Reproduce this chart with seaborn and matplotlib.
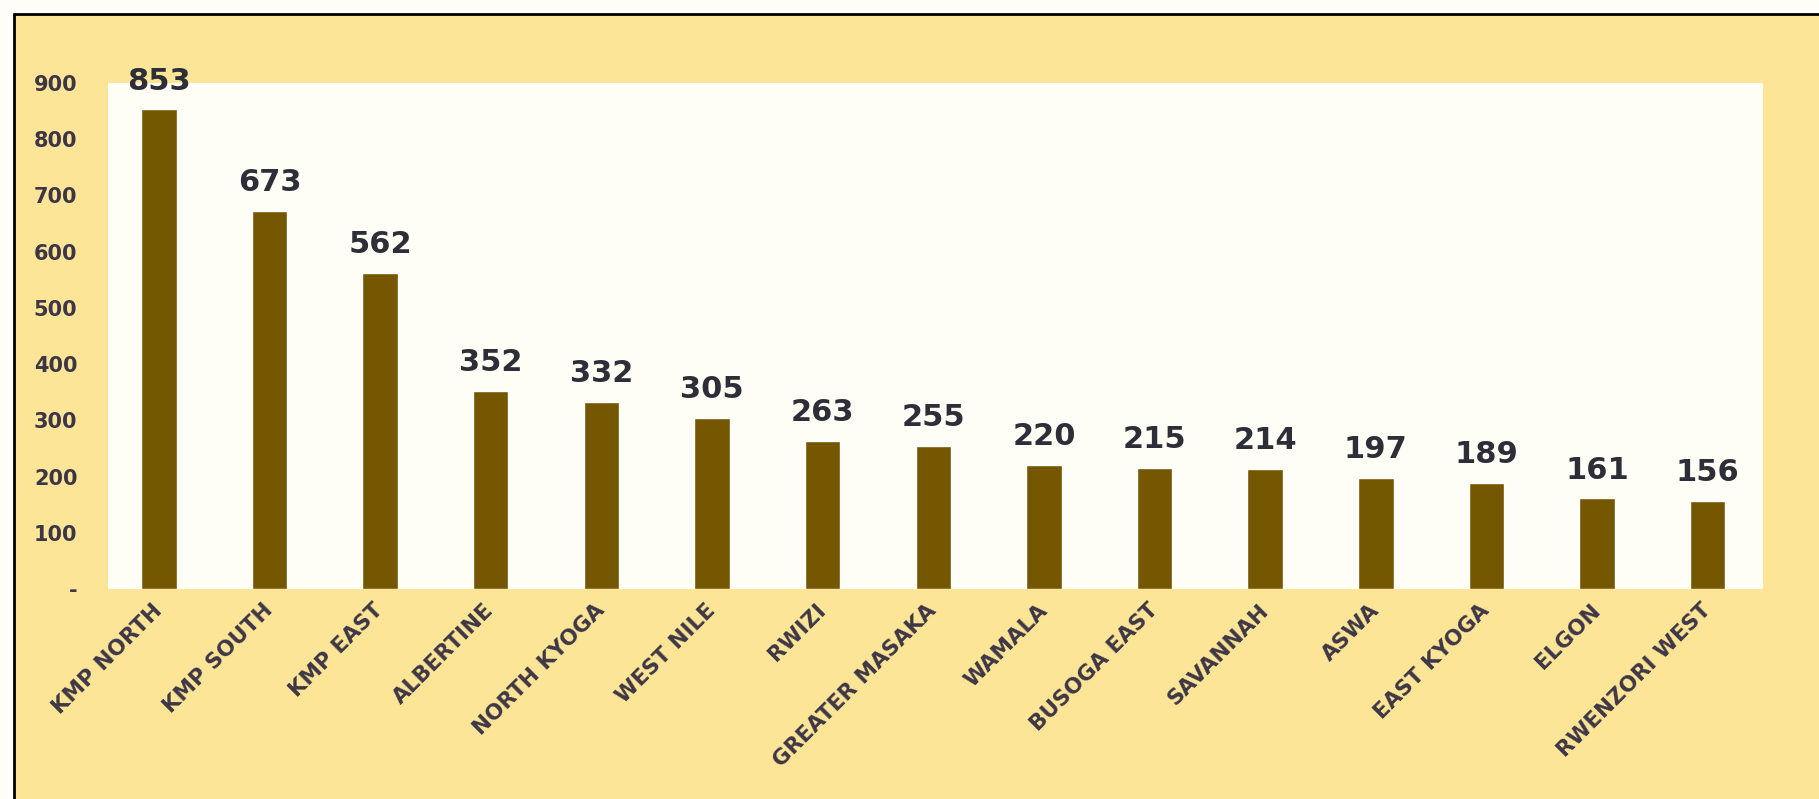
import numpy as np
import pandas as pd
import matplotlib.pyplot as plt
from matplotlib.lines import Line2D
from matplotlib.patches import Rectangle
import seaborn as sns

regions = [
    "KMP NORTH", "KMP SOUTH", "KMP EAST", "ALBERTINE", "NORTH KYOGA",
    "WEST NILE", "RWIZI", "GREATER MASAKA", "WAMALA", "BUSOGA EAST",
    "SAVANNAH", "ASWA", "EAST KYOGA", "ELGON", "RWENZORI WEST",
]
counts = [853, 673, 562, 352, 332, 305, 263, 255, 220, 215, 214, 197, 189, 161, 156]
y_ticks = [0, 100, 200, 300, 400, 500, 600, 700, 800, 900]
y_tick_labels = ["-"] + [str(v) for v in y_ticks[1:]]

df = pd.DataFrame({"region": regions, "count": counts})

W, H = 1819, 799
bar_color = "#745700"
text_color = "#3D3646"
frame_color = "#FCE597"

sns.set_style("white")
plt.rcParams["font.family"] = ["DejaVu Sans"]

fig = plt.figure(figsize=(W / 100, H / 100), dpi=100)
fig.patch.set_facecolor("#FEFDF8")

# yellow frame with a black line on top and left
fig.add_artist(Rectangle((14 / W, 0), 1 - 14 / W, 1 - 14 / H,
                         transform=fig.transFigure, facecolor=frame_color,
                         edgecolor="none", zorder=0))
fig.add_artist(Line2D([14 / W, 1], [1 - 14 / H, 1 - 14 / H],
                      transform=fig.transFigure, color="black", lw=2))
fig.add_artist(Line2D([14 / W, 14 / W], [0, 1 - 14 / H],
                      transform=fig.transFigure, color="black", lw=2))

ax = fig.add_axes([108 / W, 1 - 589 / H, (1763 - 108) / W, (589 - 83) / H])
ax.set_facecolor("#FFFEF6")

sns.barplot(data=df, x="region", y="count", color=bar_color,
            saturation=1, width=0.32, ax=ax)

# value labels above the bars
for i, v in enumerate(counts):
    ax.annotate(str(v), (i, v), xytext=(0, 10), textcoords="offset points",
                ha="center", va="bottom", fontsize=22, fontweight="bold",
                color="#2E2E38")

ax.set_ylim(0, 900)
ax.set_xlim(-0.46, 14.5)
ax.set_yticks(y_ticks)
ax.set_yticklabels(y_tick_labels, fontsize=15, fontweight="bold", color=text_color)
ax.set_xlabel("")
ax.set_ylabel("")
ax.tick_params(axis="y", length=0, pad=22)
ax.tick_params(axis="x", length=0, pad=13)
ax.set_xticks(range(len(regions)))
ax.set_xticklabels(regions, rotation=45, ha="right", va="center",
                   rotation_mode="anchor", fontsize=15.5, fontweight="bold",
                   color=text_color)
for s in ax.spines.values():
    s.set_visible(False)

fig.savefig("out.png", dpi=100, facecolor=fig.get_facecolor())
